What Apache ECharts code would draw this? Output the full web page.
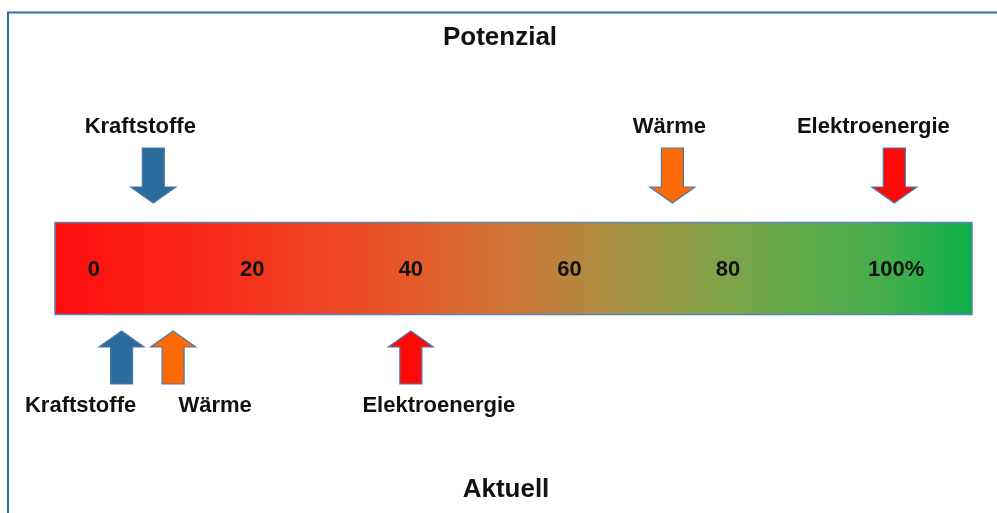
<!DOCTYPE html>
<html>
<head>
<meta charset="utf-8">
<script src="https://cdn.jsdelivr.net/npm/echarts@6/dist/echarts.min.js"></script>
<style>
  html, body { margin: 0; padding: 0; background: #ffffff; }
  #chart { width: 997px; height: 513px; }
</style>
</head>
<body>
<div id="chart"></div>
<script>
// Sectors and their share on the 0–100 % scale
const sectors = ['Kraftstoffe', 'Wärme', 'Elektroenergie'];
const potentialValues = [7.5, 73, 101];   // Potenzial (arrows above the bar)
const currentValues = [3.5, 10, 40];      // Aktuell (arrows below the bar)
const scaleTicks = [0, 20, 40, 60, 80, 100];
const scaleExtent = [-4.9, 110.8];        // span covered by the coloured bar
const topTitle = 'Potenzial';
const bottomTitle = 'Aktuell';

// styling
const sectorColors = ['#2b6c9c', '#ff6a08', '#ff0808'];
const FONT = '"Liberation Sans", Arial, sans-serif';
const labelFont = 'bold 22px ' + FONT;
const titleFont = 'bold 26px ' + FONT;
const topLabelShift = [-13, -3, -21];
const bottomLabelShift = [-41, 42, 28];

const chart = echarts.init(document.getElementById('chart'), null, { renderer: 'canvas' });

const measureCtx = document.createElement('canvas').getContext('2d');
measureCtx.font = labelFont;

function arrowPoints(cx, down) {
  const sw = 11, hw = 22.5;
  if (down) {
    const y0 = 148, yb = 187, yt = 203;
    return [[cx - sw, y0], [cx + sw, y0], [cx + sw, yb], [cx + hw, yb], [cx, yt], [cx - hw, yb], [cx - sw, yb]];
  }
  const yt = 331, yb = 347, y1 = 384;
  return [[cx - sw, y1], [cx + sw, y1], [cx + sw, yb], [cx + hw, yb], [cx, yt], [cx - hw, yb], [cx - sw, yb]];
}

function arrowSeries(name, values, down, shifts) {
  return {
    type: 'custom',
    name: name,
    coordinateSystem: 'cartesian2d',
    silent: true,
    data: values.map((v, i) => [v, i]),
    encode: { x: 0 },
    renderItem: function (params, api) {
      const i = api.value(1);
      const cx = api.coord([api.value(0), 0])[0];
      return {
        type: 'group',
        children: [
          {
            type: 'polygon',
            shape: { points: arrowPoints(cx, down) },
            style: { fill: sectorColors[i], stroke: '#4a78a8', lineWidth: 1.2 }
          },
          {
            type: 'text',
            style: {
              text: sectors[i],
              x: cx + shifts[i],
              y: down ? 127 : 406,
              align: 'center',
              verticalAlign: 'middle',
              font: labelFont,
              fill: '#111111'
            }
          }
        ]
      };
    }
  };
}

const option = {
  backgroundColor: '#ffffff',
  animation: false,
  grid: { left: 55, right: 25, top: 0, bottom: 0 },
  xAxis: {
    type: 'value',
    min: scaleExtent[0],
    max: scaleExtent[1],
    show: false
  },
  yAxis: {
    type: 'value',
    min: 0,
    max: 513,
    inverse: true,
    show: false
  },
  graphic: [
    {
      type: 'polyline',
      shape: { points: [[8, 513], [8, 12.5], [997, 12.5]] },
      style: { stroke: '#2f6ea5', lineWidth: 2, fill: null },
      silent: true
    },
    {
      type: 'text',
      style: { text: topTitle, x: 500, y: 38, align: 'center', verticalAlign: 'middle', font: titleFont, fill: '#111111' },
      silent: true
    },
    {
      type: 'text',
      style: { text: bottomTitle, x: 506, y: 490, align: 'center', verticalAlign: 'middle', font: titleFont, fill: '#111111' },
      silent: true
    }
  ],
  series: [
    {
      // colour scale bar
      type: 'custom',
      silent: true,
      data: [[scaleExtent[0], scaleExtent[1]]],
      encode: { x: [0, 1] },
      renderItem: function (params, api) {
        const x0 = api.coord([api.value(0), 222])[0];
        const x1 = api.coord([api.value(1), 222])[0];
        return {
          type: 'rect',
          shape: { x: x0, y: 222.5, width: x1 - x0, height: 92 },
          style: {
            fill: new echarts.graphic.LinearGradient(0, 0, 1, 0, [
              { offset: 0, color: '#ff0d0d' },
              { offset: 0.2, color: '#f7301c' },
              { offset: 0.4, color: '#e45c2b' },
              { offset: 0.5, color: '#cd7637' },
              { offset: 0.6, color: '#ad8d40' },
              { offset: 0.7, color: '#8ca147' },
              { offset: 0.8, color: '#64a94b' },
              { offset: 0.9, color: '#47ad4c' },
              { offset: 1, color: '#0cb04a' }
            ]),
            stroke: '#5a84b4',
            lineWidth: 1.5
          }
        };
      }
    },
    {
      // scale tick labels inside the bar
      type: 'custom',
      silent: true,
      data: scaleTicks.map(v => [v]),
      encode: { x: 0 },
      renderItem: function (params, api) {
        const v = api.value(0);
        const cx = api.coord([v, 0])[0];
        const last = params.dataIndex === scaleTicks.length - 1;
        const num = String(v);
        const text = last ? num + '%' : num;
        const numW = measureCtx.measureText(num).width;
        return {
          type: 'text',
          style: {
            text: text,
            x: cx - numW / 2,
            y: 270,
            align: 'left',
            verticalAlign: 'middle',
            font: labelFont,
            fill: '#111111'
          }
        };
      }
    },
    arrowSeries(topTitle, potentialValues, true, topLabelShift),
    arrowSeries(bottomTitle, currentValues, false, bottomLabelShift)
  ]
};

chart.setOption(option);
</script>
</body>
</html>
